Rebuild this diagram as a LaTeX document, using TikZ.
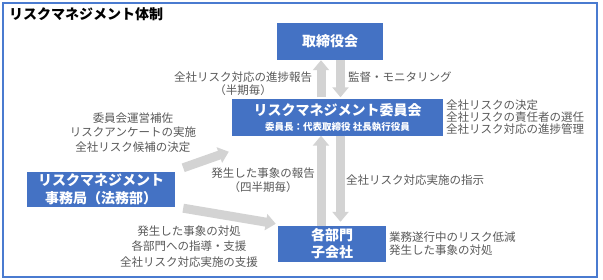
\documentclass[tikz,border=0pt]{standalone}
\usepackage{fontspec}
\setmainfont{Noto Sans CJK JP}
\usetikzlibrary{arrows.meta,calc}
\definecolor{boxblue}{HTML}{4472C4}
\definecolor{frameblue}{HTML}{4A7BD0}
\definecolor{arrgray}{HTML}{D3D3D3}
\definecolor{txtgray}{HTML}{595959}
\begin{document}
\begin{tikzpicture}[x=1pt,y=-1pt,
  bluebox/.style={fill=boxblue, text=white, inner sep=0pt, align=center},
  boxtext/.style={text=white, inner sep=0pt, align=center, font=\fontsize{14}{18}\selectfont\bfseries},
  lbl/.style={text=txtgray, inner sep=0pt, font=\fontsize{11.5}{14}\selectfont},
  blockarrow/.style={draw=arrgray, line width=9pt, -{Triangle[width=16pt,length=10pt]}}]
\useasboundingbox (0,0) rectangle (603,279);
\draw[frameblue, line width=1.5pt] (3,3) rectangle (597,277);
\node[anchor=west, font=\fontsize{14}{16}\selectfont\bfseries, inner sep=0pt] (title) at (9,14) {リスクマネジメント体制};

% boxes
\node[bluebox, minimum width=106pt, minimum height=37pt, boxtext] (board) at (330,41.5) {取締役会};
\node[bluebox, minimum width=211pt, minimum height=37pt] (comm) at (337.5,117) {};
\node[boxtext] (commT) at (337.5,110) {リスクマネジメント委員会};
\node[text=white, inner sep=0pt, font=\fontsize{9.5}{11}\selectfont\bfseries] (commS) at (337.5,127) {委員長：代表取締役 社長執行役員};
\node[bluebox, minimum width=148pt, minimum height=35pt, boxtext, font=\fontsize{14}{18.5}\selectfont\bfseries] (office) at (101,189.5) {リスクマネジメント\\事務局（法務部）};
\node[bluebox, minimum width=108pt, minimum height=36pt, boxtext, font=\fontsize{14}{17}\selectfont\bfseries] (dept) at (332,244) {各部門\\子会社};

% arrows
\draw[blockarrow] ([xshift=-16.5pt,yshift=1pt]comm.north) -- ([xshift=-9pt]board.south);
\draw[blockarrow] ([xshift=10.5pt]board.south) -- ([xshift=3pt,yshift=1pt]comm.north);
\draw[blockarrow] ([xshift=-11pt]dept.north) -- ([xshift=-16.5pt]comm.south);
\draw[blockarrow] ([xshift=3pt]comm.south) -- ([xshift=8.5pt,yshift=4pt]dept.north);
\draw[blockarrow] ([xshift=8pt,yshift=4pt]office.north east) -- ([xshift=-3pt,yshift=-16pt]comm.south west);
\draw[blockarrow] ([xshift=8pt,yshift=-1pt]office.south east) -- ([xshift=-2pt,yshift=2pt]dept.north west);

% labels
\node[lbl, align=center, font=\fontsize{11.5}{13}\selectfont] (repL) at (243,83.5) {全社リスク対応の進捗報告\\（半期毎）};
\node[lbl, anchor=west] (monitor) at (348,77) {監督・モニタリング};
\node[lbl, anchor=west, align=left, font=\fontsize{11.5}{11.8}\selectfont] (commR) at (446,117) {全社リスクの決定\\全社リスクの責任者の選任\\全社リスク対応の進捗管理};
\node[lbl, align=center, font=\fontsize{11.5}{14.3}\selectfont] (officeL) at (133,132.5) {委員会運営補佐\\リスクアンケートの実施\\全社リスク候補の決定};
\node[lbl, align=center] (evRep) at (263,180) {発生した事象の報告\\（四半期毎）};
\node[lbl, anchor=west] (instr) at (346,180) {全社リスク対応実施の指示};
\node[lbl, align=center, font=\fontsize{11.5}{15.5}\selectfont] (officeB) at (189,246.5) {発生した事象の対処\\各部門への指導・支援\\全社リスク対応実施の支援};
\node[lbl, anchor=west, align=left, font=\fontsize{11.5}{13}\selectfont] (deptR) at (389,243.5) {業務遂行中のリスク低減\\発生した事象の対処};
\end{tikzpicture}
\end{document}
